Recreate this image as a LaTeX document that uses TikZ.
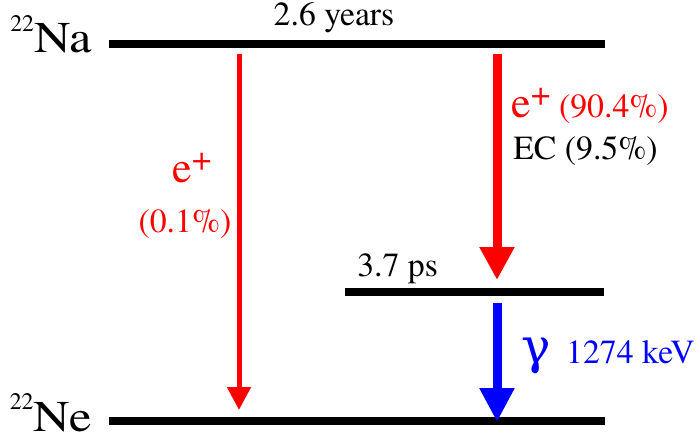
\documentclass[tikz,border=0pt]{standalone}
\usepackage{fontspec}
\setmainfont{TeX Gyre Termes}
\newfontfamily\greekfont{DejaVu Serif}
\usepackage{xcolor}
\usetikzlibrary{arrows.meta}
\definecolor{decayred}{RGB}{255,0,0}
\definecolor{decayblue}{RGB}{0,0,255}

\begin{document}
\begin{tikzpicture}[x=0.02cm,y=-0.02cm]
    \tikzstyle{level}=[line width=0.16cm]
    \tikzstyle{rare_decay}=[decayred,line width=0.1cm,-{Triangle[width=0.46cm,length=0.46cm]}]
    \tikzstyle{main_decay}=[decayred,line width=0.18cm,-{Triangle[width=0.66cm,length=0.66cm]}]
    \tikzstyle{gamma_decay}=[decayblue,line width=0.18cm,-{Triangle[width=0.66cm,length=0.68cm]}]
    \tikzstyle{txt}=[inner sep=0pt,font=\fontsize{19.2}{22}\selectfont]
    \tikzstyle{nuclide}=[inner sep=0pt,anchor=base east,font=\fontsize{25}{28}\selectfont]
    \useasboundingbox (0,0) rectangle (700,442);
    \coordinate (na_l) at (109,44);  \coordinate (na_r) at (605,44);
    \coordinate (ex_l) at (345,292); \coordinate (ex_r) at (604,292);
    \coordinate (ne_l) at (109,421); \coordinate (ne_r) at (605,421);
    \coordinate (rare_s) at (239,54);  \coordinate (rare_e) at (239,410);
    \coordinate (main_s) at (497,54);  \coordinate (main_e) at (497,280);
    \coordinate (gam_s) at (497,303);  \coordinate (gam_e) at (497,422);
    % Draw the levels
    \draw[level] (na_l) -- (na_r);
    \draw[level] (ex_l) -- (ex_r);
    \draw[level] (ne_l) -- (ne_r);
    \node[nuclide] (na) at (92,53)
        {\raisebox{12pt}{\fontsize{13.5}{14}\selectfont 22}\scalebox{1.15}[1]{Na}};
    \node[nuclide] (ne) at (92,431)
        {\raisebox{12pt}{\fontsize{13.5}{14}\selectfont 22}\scalebox{1.15}[1]{Ne}};
    \node[txt,anchor=base] (halflife) at (334,26) {2.6 years};
    \node[txt,anchor=base west] (lifetime) at (357,276) {3.7 ps};
    % Draw the decays
    \draw[rare_decay] (rare_s) -- (rare_e);
    \draw[main_decay] (main_s) -- (main_e);
    \draw[gamma_decay] (gam_s) -- (gam_e);
    \node[txt,anchor=base west,text=decayred] (ep_main) at (511,118)
        {{\fontsize{25}{28}\selectfont e\raisebox{7pt}{\fontsize{20}{22}\selectfont +}} (90.4\%)};
    \node[txt,anchor=base west] (ec) at (513,160) {EC (9.5\%)};
    \node[txt,anchor=base,text=decayred] (ep_rare) at (192,183)
        {\fontsize{25}{28}\selectfont e\raisebox{7pt}{\fontsize{20}{22}\selectfont +}};
    \node[txt,anchor=base,text=decayred] (br_rare) at (185,233) {(0.1\%)};
    \node[txt,anchor=base west,text=decayblue] (gam) at (521,363)
        {{\greekfont\fontsize{28}{32}\selectfont γ}\hspace{4pt} 1274 keV};
\end{tikzpicture}
\end{document}
